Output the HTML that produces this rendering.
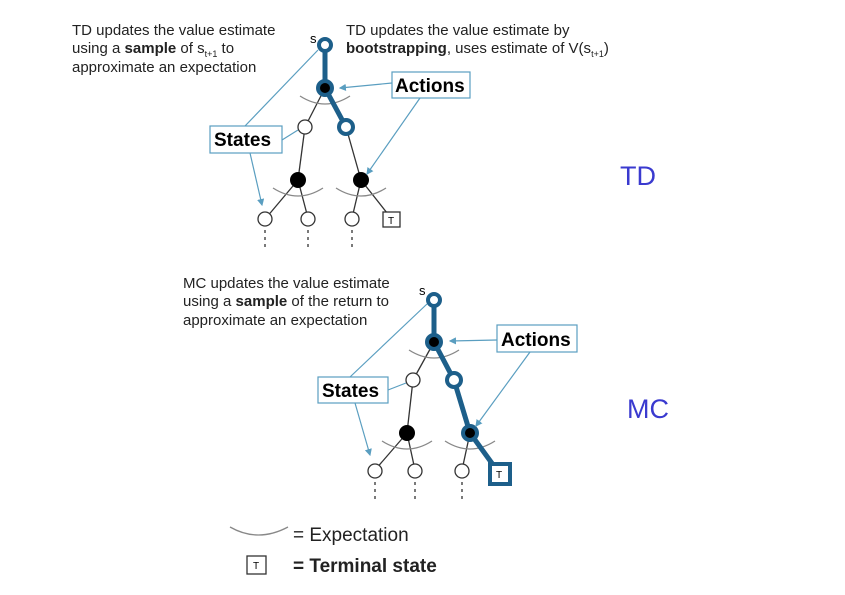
<!DOCTYPE html>
<html><head><style>
body{margin:0;background:#fff;}
svg{display:block;font-family:"Liberation Sans",sans-serif;}
</style></head><body>
<svg width="845" height="595" viewBox="0 0 845 595" xmlns="http://www.w3.org/2000/svg">
<defs><marker id="a" markerWidth="6" markerHeight="6" refX="5" refY="3" orient="auto"><path d="M0,0 L6,3 L0,6z" fill="#5a9ec0"/></marker></defs>
<g font-size="15" fill="#222">
<text x="72" y="35">TD updates the value estimate</text>
<text x="72" y="53">using a <tspan font-weight="bold">sample</tspan> of s<tspan font-size="9" dy="4">t+1</tspan><tspan dy="-4"> to</tspan></text>
<text x="72" y="72">approximate an expectation</text>
<text x="346" y="35">TD updates the value estimate by</text>
<text x="346" y="53"><tspan font-weight="bold">bootstrapping</tspan>, uses estimate of V(s<tspan font-size="9" dy="4">t+1</tspan><tspan dy="-4">)</tspan></text>
<text x="183" y="288">MC updates the value estimate</text>
<text x="183" y="306">using a <tspan font-weight="bold">sample</tspan> of the return to</text>
<text x="183" y="325">approximate an expectation</text>
</g>
<text x="620" y="185" font-size="27" fill="#3a3acf">TD</text>
<text x="627" y="418" font-size="27" fill="#3a3acf">MC</text>

<!-- TD tree -->
<g stroke="#333" stroke-width="1.3" fill="none">
<line x1="325" y1="88" x2="305" y2="127"/><line x1="305" y1="127" x2="298" y2="180"/>
<line x1="346" y1="127" x2="361" y2="180"/>
<line x1="298" y1="180" x2="266" y2="218"/><line x1="298" y1="180" x2="308" y2="218"/>
<line x1="361" y1="180" x2="352" y2="218"/><line x1="361" y1="180" x2="391" y2="218"/>
<path d="M300,96 Q325,112 350,96" stroke="#888"/>
<path d="M273,188 Q298,204 323,188" stroke="#888"/>
<path d="M336,188 Q361,204 386,188" stroke="#888"/>
<g stroke-dasharray="3,4"><line x1="265" y1="230" x2="265" y2="248"/><line x1="308" y1="230" x2="308" y2="248"/><line x1="352" y1="230" x2="352" y2="248"/></g>
</g>
<g stroke="#1d5f8a" stroke-width="5" fill="none"><line x1="325" y1="45" x2="325" y2="88"/><line x1="325" y1="88" x2="346" y2="127"/></g>
<circle cx="325" cy="45" r="6" fill="#fff" stroke="#1d5f8a" stroke-width="4"/>
<circle cx="325" cy="88" r="7" fill="#000" stroke="#1d5f8a" stroke-width="4"/>
<circle cx="346" cy="127" r="7" fill="#fff" stroke="#1d5f8a" stroke-width="4"/>
<circle cx="305" cy="127" r="7" fill="#fff" stroke="#333" stroke-width="1.3"/>
<circle cx="298" cy="180" r="8" fill="#000"/><circle cx="361" cy="180" r="8" fill="#000"/>
<g fill="#fff" stroke="#333" stroke-width="1.3"><circle cx="265" cy="219" r="7"/><circle cx="308" cy="219" r="7"/><circle cx="352" cy="219" r="7"/><rect x="383" y="212" width="17" height="15"/></g>
<text x="388" y="224" font-size="10">T</text>
<text x="310" y="43" font-size="13">s</text>
<g stroke="#5a9ec0" stroke-width="1.2" fill="none">
<line x1="245" y1="126" x2="318" y2="50"/><line x1="282" y1="140" x2="298" y2="130"/>
<line x1="250" y1="153" x2="262" y2="205" marker-end="url(#a)"/>
<line x1="392" y1="83" x2="340" y2="88" marker-end="url(#a)"/>
<line x1="420" y1="98" x2="367" y2="174" marker-end="url(#a)"/>
<rect x="210" y="126" width="72" height="27" fill="#fff"/><rect x="392" y="72" width="78" height="26" fill="#fff"/>
</g>
<text x="214" y="146" font-size="19" font-weight="bold">States</text>
<text x="395" y="92" font-size="19" font-weight="bold">Actions</text>

<!-- MC tree -->
<g stroke="#333" stroke-width="1.3" fill="none">
<line x1="434" y1="342" x2="413" y2="380"/><line x1="413" y1="380" x2="407" y2="433"/>
<line x1="407" y1="433" x2="375" y2="470"/><line x1="407" y1="433" x2="415" y2="470"/>
<line x1="470" y1="433" x2="462" y2="470"/>
<path d="M409,350 Q434,366 459,350" stroke="#888"/>
<path d="M382,441 Q407,457 432,441" stroke="#888"/>
<path d="M445,441 Q470,457 495,441" stroke="#888"/>
<g stroke-dasharray="3,4"><line x1="375" y1="482" x2="375" y2="500"/><line x1="415" y1="482" x2="415" y2="500"/><line x1="462" y1="482" x2="462" y2="500"/></g>
</g>
<g stroke="#1d5f8a" stroke-width="5" fill="none"><polyline points="434,300 434,342 454,380 470,433 499,473"/></g>
<circle cx="434" cy="300" r="6" fill="#fff" stroke="#1d5f8a" stroke-width="4"/>
<circle cx="434" cy="342" r="7" fill="#000" stroke="#1d5f8a" stroke-width="4"/>
<circle cx="454" cy="380" r="7" fill="#fff" stroke="#1d5f8a" stroke-width="4"/>
<circle cx="470" cy="433" r="7" fill="#000" stroke="#1d5f8a" stroke-width="4"/>
<circle cx="413" cy="380" r="7" fill="#fff" stroke="#333" stroke-width="1.3"/>
<circle cx="407" cy="433" r="8" fill="#000"/>
<g fill="#fff" stroke="#333" stroke-width="1.3"><circle cx="375" cy="471" r="7"/><circle cx="415" cy="471" r="7"/><circle cx="462" cy="471" r="7"/></g>
<rect x="490" y="464" width="20" height="20" fill="#fff" stroke="#1d5f8a" stroke-width="4"/>
<text x="496" y="478" font-size="10">T</text>
<text x="419" y="295" font-size="13">s</text>
<g stroke="#5a9ec0" stroke-width="1.2" fill="none">
<line x1="350" y1="377" x2="427" y2="304"/><line x1="388" y1="390" x2="406" y2="383"/>
<line x1="355" y1="403" x2="370" y2="455" marker-end="url(#a)"/>
<line x1="497" y1="340" x2="450" y2="341" marker-end="url(#a)"/>
<line x1="530" y1="352" x2="476" y2="426" marker-end="url(#a)"/>
<rect x="318" y="377" width="70" height="26" fill="#fff"/><rect x="497" y="325" width="80" height="27" fill="#fff"/>
</g>
<text x="322" y="397" font-size="19" font-weight="bold">States</text>
<text x="501" y="346" font-size="19" font-weight="bold">Actions</text>

<!-- legend -->
<path d="M230,527 Q258,543 288,527" stroke="#888" stroke-width="1.3" fill="none"/>
<text x="293" y="541" font-size="19" fill="#222">= Expectation</text>
<rect x="247" y="556" width="19" height="18" fill="#fff" stroke="#333" stroke-width="1.3"/>
<text x="253" y="569" font-size="10">T</text>
<text x="293" y="572" font-size="19" font-weight="bold" fill="#222">= Terminal state</text>
</svg>
</body></html>
